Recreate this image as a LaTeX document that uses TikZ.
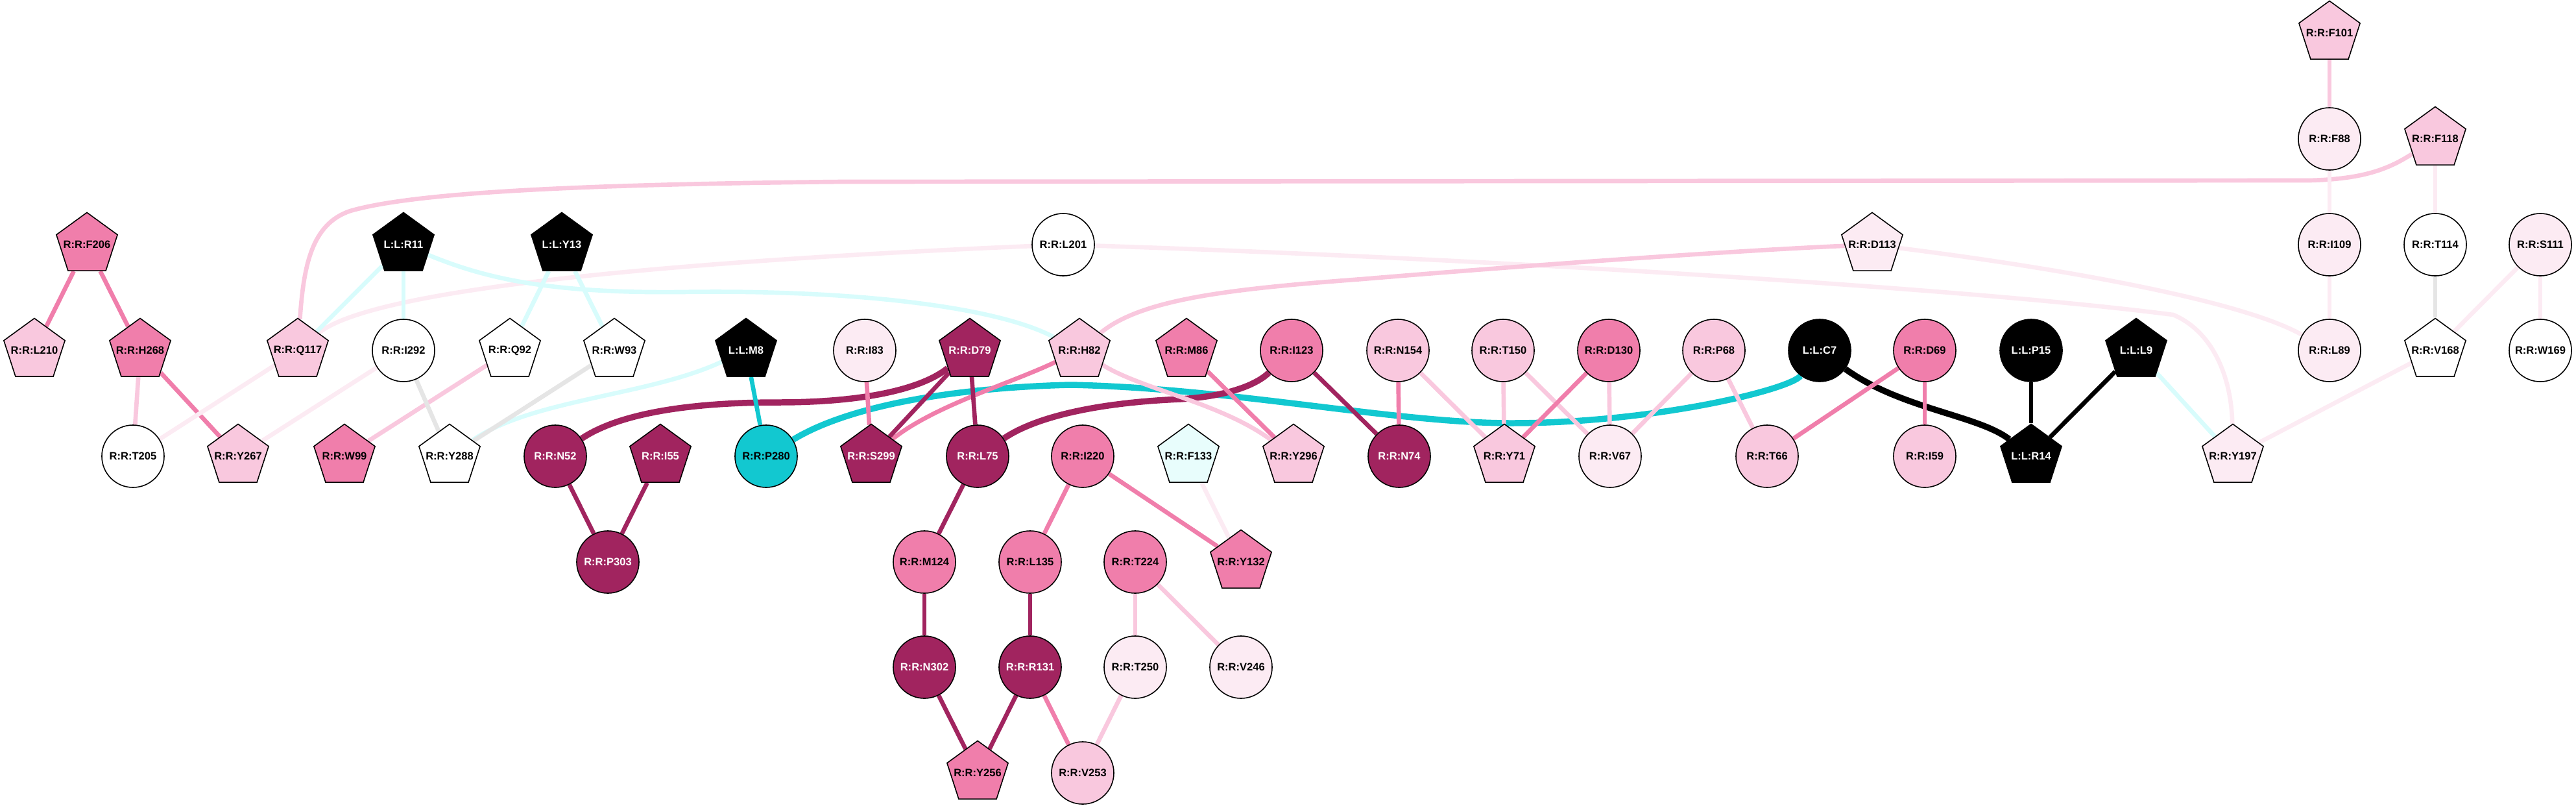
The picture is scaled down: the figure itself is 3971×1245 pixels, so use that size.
\documentclass[tikz,border=0pt]{standalone}
\usepackage{fontspec}
\setmainfont{Liberation Sans}
\usetikzlibrary{shapes.geometric}
\definecolor{cDark}{HTML}{A1245F}
\definecolor{cMed}{HTML}{F07EAB}
\definecolor{cLight}{HTML}{F9C8DE}
\definecolor{cVLight}{HTML}{FCEBF3}
\definecolor{cCyan}{HTML}{12C8D0}
\definecolor{cLCyan}{HTML}{E8FDFC}
\definecolor{cLCyanE}{HTML}{D8FCFC}
\definecolor{cGrey}{HTML}{E5E5E5}
\pgfdeclarelayer{bg}
\pgfsetlayers{bg,main}
\newcommand\lab[1]{\makebox[0pt][c]{#1}}
\tikzset{
  res/.style={draw=black, line width=0.45pt, inner sep=0pt,
    font=\fontsize{4.7pt}{5pt}\selectfont\bfseries},
  circ/.style={res, circle, minimum size=0.96cm},
  pent/.style={res, regular polygon, regular polygon sides=5, minimum size=0.99cm},
  wt/.style={text=white},
  e/.style={line width=1.9pt},
  ek/.style={line width=2.7pt},
}
\begin{document}
\begin{tikzpicture}[x=0.01cm, y=-0.01cm]
\useasboundingbox (0,0) rectangle (3971,1245);
% Row A
\node[pent, fill=cLight] (F101) at (3591,51) {\lab{R:R:F101}};
% Row B
\node[circ, fill=cVLight] (F88) at (3591,214) {\lab{R:R:F88}};
\node[pent, fill=cLight] (F118) at (3754,214) {\lab{R:R:F118}};
% Row C
\node[pent, fill=cMed] (F206) at (134,377) {\lab{R:R:F206}};
\node[pent, fill=black, wt] (R11) at (622,377) {\lab{L:L:R11}};
\node[pent, fill=black, wt] (Y13) at (866,377) {\lab{L:L:Y13}};
\node[circ, fill=white] (L201) at (1639,377) {\lab{R:R:L201}};
\node[pent, fill=cVLight] (D113) at (2886,377) {\lab{R:R:D113}};
\node[circ, fill=cVLight] (I109) at (3591,377) {\lab{R:R:I109}};
\node[circ, fill=white] (T114) at (3754,377) {\lab{R:R:T114}};
\node[circ, fill=cVLight] (S111) at (3916,377) {\lab{R:R:S111}};
% Row D
\node[pent, fill=cLight] (L210) at (53,540) {\lab{R:R:L210}};
\node[pent, fill=cMed] (H268) at (216,540) {\lab{R:R:H268}};
\node[pent, fill=cLight] (Q117) at (459,540) {\lab{R:R:Q117}};
\node[circ, fill=white] (I292) at (622,540) {\lab{R:R:I292}};
\node[pent, fill=white] (Q92) at (786,540) {\lab{R:R:Q92}};
\node[pent, fill=white] (W93) at (947,540) {\lab{R:R:W93}};
\node[pent, fill=black, wt] (M8) at (1150,540) {\lab{L:L:M8}};
\node[circ, fill=cVLight] (I83) at (1333,540) {\lab{R:R:I83}};
\node[pent, fill=cDark, wt] (D79) at (1495,540) {\lab{R:R:D79}};
\node[pent, fill=cLight] (H82) at (1664,540) {\lab{R:R:H82}};
\node[pent, fill=cMed] (M86) at (1829,540) {\lab{R:R:M86}};
\node[circ, fill=cMed] (I123) at (1991,540) {\lab{R:R:I123}};
\node[circ, fill=cLight] (N154) at (2155,540) {\lab{R:R:N154}};
\node[circ, fill=cLight] (T150) at (2317,540) {\lab{R:R:T150}};
\node[circ, fill=cMed] (D130) at (2480,540) {\lab{R:R:D130}};
\node[circ, fill=cLight] (P68) at (2642,540) {\lab{R:R:P68}};
\node[circ, fill=black, wt] (C7) at (2805,540) {\lab{L:L:C7}};
\node[circ, fill=cMed] (D69) at (2967,540) {\lab{R:R:D69}};
\node[circ, fill=black, wt] (P15) at (3131,540) {\lab{L:L:P15}};
\node[pent, fill=black, wt] (L9) at (3293,540) {\lab{L:L:L9}};
\node[circ, fill=cVLight] (L89) at (3591,540) {\lab{R:R:L89}};
\node[pent, fill=white] (V168) at (3754,540) {\lab{R:R:V168}};
\node[circ, fill=white] (W169) at (3916,540) {\lab{R:R:W169}};
% Row E
\node[circ, fill=white] (T205) at (205,703) {\lab{R:R:T205}};
\node[pent, fill=cLight] (Y267) at (367,703) {\lab{R:R:Y267}};
\node[pent, fill=cMed] (W99) at (531,703) {\lab{R:R:W99}};
\node[pent, fill=white] (Y288) at (693,703) {\lab{R:R:Y288}};
\node[circ, fill=cDark, wt] (N52) at (856,703) {\lab{R:R:N52}};
\node[pent, fill=cDark, wt] (I55) at (1018,703) {\lab{R:R:I55}};
\node[circ, fill=cCyan] (P280) at (1181,703) {\lab{R:R:P280}};
\node[pent, fill=cDark, wt] (S299) at (1343,703) {\lab{R:R:S299}};
\node[circ, fill=cDark, wt] (L75) at (1507,703) {\lab{R:R:L75}};
\node[circ, fill=cMed] (I220) at (1669,703) {\lab{R:R:I220}};
\node[pent, fill=cLCyan] (F133) at (1832,703) {\lab{R:R:F133}};
\node[pent, fill=cLight] (Y296) at (1994,703) {\lab{R:R:Y296}};
\node[circ, fill=cDark, wt] (N74) at (2157,703) {\lab{R:R:N74}};
\node[pent, fill=cLight] (Y71) at (2319,703) {\lab{R:R:Y71}};
\node[circ, fill=cVLight] (V67) at (2482,703) {\lab{R:R:V67}};
\node[circ, fill=cLight] (T66) at (2724,703) {\lab{R:R:T66}};
\node[circ, fill=cLight] (I59) at (2967,703) {\lab{R:R:I59}};
\node[pent, fill=black, wt] (R14) at (3131,703) {\lab{L:L:R14}};
\node[pent, fill=cVLight] (Y197) at (3442,703) {\lab{R:R:Y197}};
% Row F
\node[circ, fill=cDark, wt] (P303) at (937,866) {\lab{R:R:P303}};
\node[circ, fill=cMed] (M124) at (1425,866) {\lab{R:R:M124}};
\node[circ, fill=cMed] (L135) at (1588,866) {\lab{R:R:L135}};
\node[circ, fill=cMed] (T224) at (1750,866) {\lab{R:R:T224}};
\node[pent, fill=cMed] (Y132) at (1913,866) {\lab{R:R:Y132}};
% Row G
\node[circ, fill=cDark, wt] (N302) at (1425,1028) {\lab{R:R:N302}};
\node[circ, fill=cDark, wt] (R131) at (1588,1028) {\lab{R:R:R131}};
\node[circ, fill=cVLight] (T250) at (1750,1028) {\lab{R:R:T250}};
\node[circ, fill=cVLight] (V246) at (1913,1028) {\lab{R:R:V246}};
% Row H
\node[pent, fill=cMed] (Y256) at (1507,1191) {\lab{R:R:Y256}};
\node[circ, fill=cLight] (V253) at (1669,1191) {\lab{R:R:V253}};

\begin{pgfonlayer}{bg}
% curved connectors
\draw[e, cLight] (Q117) .. controls (468,410) and (480,345) .. (540,325)
   .. controls (640,296) and (900,284) .. (1300,280) -- (3560,278)
   .. controls (3640,276) and (3680,262) .. (F118);
\draw[e, cVLight] (Q117) .. controls (580,440) and (1100,400) .. (L201);
\draw[e, cVLight] (L201) .. controls (2200,395) and (3000,440) .. (3350,485)
   .. controls (3410,510) and (3440,580) .. (Y197);
\draw[e, cVLight] (D113) .. controls (3150,410) and (3450,460) .. (L89);
\draw[e, cLight] (H82) .. controls (1760,460) and (1900,445) .. (2100,430)
   .. controls (2400,405) and (2700,385) .. (D113);
\draw[e, cLCyanE] (R11) .. controls (750,430) and (850,452) .. (1050,450)
   .. controls (1300,446) and (1530,470) .. (H82);
\draw[e, cLCyanE] (M8) .. controls (1000,610) and (820,615) .. (Y288);
\draw[ek, cCyan] (P280) .. controls (1300,630) and (1450,598) .. (1650,593)
   .. controls (1900,598) and (2150,652) .. (2330,652)
   .. controls (2550,652) and (2760,600) .. (C7);
\draw[ek, cDark] (N52) .. controls (950,640) and (1050,620) .. (1200,620)
   .. controls (1330,620) and (1420,600) .. (D79);
\draw[ek, cDark] (L75) .. controls (1600,640) and (1700,620) .. (1820,615)
   .. controls (1900,610) and (1940,590) .. (I123);
\draw[e, cMed] (H82) .. controls (1560,590) and (1440,625) .. (S299);
\draw[e, cLight] (H82) .. controls (1760,600) and (1880,620) .. (Y296);
\draw[ek, black] (C7) .. controls (2930,630) and (3050,640) .. (R14);
% straight connectors
\draw[e, cMed] (F206) -- (L210);
\draw[e, cMed] (F206) -- (H268);
\draw[e, cLight] (H268) -- (T205);
\draw[e, cMed] (H268) -- (Y267);
\draw[e, cVLight] (Q117) -- (T205);
\draw[e, cVLight] (I292) -- (Y267);
\draw[e, cLight] (Q92) -- (W99);
\draw[e, cGrey] (I292) -- (Y288);
\draw[e, cGrey] (W93) -- (Y288);
\draw[e, cLCyanE] (R11) -- (I292);
\draw[e, cLCyanE] (R11) -- (Q117);
\draw[e, cLCyanE] (Y13) -- (Q92);
\draw[e, cLCyanE] (Y13) -- (W93);
\draw[e, cCyan] (M8) -- (P280);
\draw[e, cMed] (I83) -- (S299);
\draw[e, cDark] (D79) -- (S299);
\draw[e, cDark] (D79) -- (L75);
\draw[e, cDark] (N52) -- (P303);
\draw[e, cDark] (I55) -- (P303);
\draw[e, cMed] (M86) -- (Y296);
\draw[e, cDark] (I123) -- (N74);
\draw[e, cMed] (N154) -- (N74);
\draw[e, cLight] (N154) -- (Y71);
\draw[e, cLight] (T150) -- (Y71);
\draw[e, cLight] (T150) -- (V67);
\draw[e, cMed] (D130) -- (Y71);
\draw[e, cLight] (D130) -- (V67);
\draw[e, cLight] (P68) -- (V67);
\draw[e, cLight] (P68) -- (T66);
\draw[e, cMed] (D69) -- (T66);
\draw[e, cMed] (D69) -- (I59);
\draw[e, black] (P15) -- (R14);
\draw[e, black] (L9) -- (R14);
\draw[e, cLCyanE] (L9) -- (Y197);
\draw[e, cVLight] (V168) -- (Y197);
\draw[e, cVLight] (S111) -- (V168);
\draw[e, cVLight] (S111) -- (W169);
\draw[e, cGrey] (T114) -- (V168);
\draw[e, cVLight] (F118) -- (T114);
\draw[e, cLight] (F101) -- (F88);
\draw[e, cVLight] (F88) -- (I109);
\draw[e, cVLight] (I109) -- (L89);
\draw[e, cDark] (L75) -- (M124);
\draw[e, cMed] (I220) -- (L135);
\draw[e, cMed] (I220) -- (Y132);
\draw[e, cVLight] (F133) -- (Y132);
\draw[e, cDark] (M124) -- (N302);
\draw[e, cDark] (L135) -- (R131);
\draw[e, cLight] (T224) -- (T250);
\draw[e, cLight] (T224) -- (V246);
\draw[e, cDark] (N302) -- (Y256);
\draw[e, cDark] (R131) -- (Y256);
\draw[e, cMed] (R131) -- (V253);
\draw[e, cLight] (T250) -- (V253);
\end{pgfonlayer}
\end{tikzpicture}
\end{document}
